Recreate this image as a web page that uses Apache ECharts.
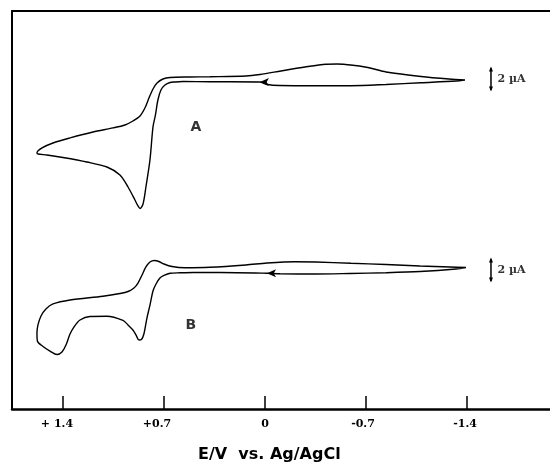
<!DOCTYPE html>
<html>
<head>
<meta charset="utf-8">
<script src="https://cdn.jsdelivr.net/npm/echarts@6/dist/echarts.min.js"></script>
<style>html,body{margin:0;padding:0;background:#fff}#c{width:550px;height:466px}</style>
</head>
<body>
<div id="c"></div>
<script>
// Potential E (V vs Ag/AgCl) and current (µA, offset)
var traceA = [
[-1.386,29.91],[-1.324,29.82],[-1.081,29.66],[-0.839,29.50],[-0.596,29.39],[-0.353,29.39],[-0.104,29.41],[-0.014,29.50],[0.035,29.73],[0.243,29.75],[0.381,29.75],[0.568,29.77],[0.624,29.73],[0.658,29.68],[0.693,29.45],[0.721,29.00],[0.742,28.09],[0.759,26.73],[0.776,25.64],[0.797,22.64],[0.825,20.18],[0.845,18.64],[0.866,18.23],[0.884,18.55],[0.901,19.00],[0.949,20.18],[1.005,21.27],[1.095,22.00],[1.234,22.45],[1.400,22.86],[1.511,23.09],[1.573,23.18],[1.580,23.27],[1.545,23.73],[1.469,24.18],[1.351,24.64],[1.192,25.18],[1.053,25.55],[0.970,25.82],[0.915,26.18],[0.866,26.64],[0.832,27.36],[0.804,28.27],[0.776,29.09],[0.748,29.64],[0.707,30.00],[0.658,30.14],[0.520,30.18],[0.381,30.20],[0.132,30.27],[0.035,30.41],[-0.111,30.73],[-0.277,31.09],[-0.423,31.34],[-0.499,31.36],[-0.624,31.23],[-0.693,31.09],[-0.742,30.95],[-0.839,30.64],[-1.081,30.23],[-1.275,30.00],[-1.386,29.91]
];
var traceB = [
[-1.393,12.86],[-1.324,12.73],[-1.074,12.50],[-0.839,12.39],[-0.589,12.32],[-0.353,12.27],[-0.104,12.29],[-0.014,12.34],[0.312,12.41],[0.499,12.41],[0.589,12.38],[0.658,12.34],[0.700,12.14],[0.728,11.91],[0.755,11.36],[0.776,10.73],[0.797,9.45],[0.818,8.27],[0.839,6.82],[0.856,6.32],[0.873,6.27],[0.894,6.73],[0.915,7.18],[0.949,7.64],[0.984,8.05],[1.095,8.43],[1.213,8.41],[1.282,8.09],[1.324,7.45],[1.351,6.82],[1.379,5.82],[1.407,5.18],[1.441,4.95],[1.490,5.27],[1.538,5.68],[1.577,6.18],[1.580,6.91],[1.573,7.64],[1.552,8.45],[1.518,9.09],[1.469,9.55],[1.351,9.91],[1.123,10.25],[1.005,10.50],[0.949,10.68],[0.908,11.00],[0.880,11.45],[0.852,12.18],[0.825,12.91],[0.797,13.36],[0.766,13.50],[0.735,13.41],[0.700,13.18],[0.644,12.95],[0.554,12.84],[0.381,12.88],[0.132,13.09],[-0.014,13.27],[-0.208,13.39],[-0.353,13.36],[-0.596,13.25],[-0.839,13.14],[-1.074,13.00],[-1.282,12.91],[-1.393,12.86]
];
var arrowA = [0.035, 29.73];
var arrowB = [-0.014, 12.34];
var scaleBarA = [[-1.566, 29.0], [-1.566, 31.0]];
var scaleBarB = [[-1.566, 11.64], [-1.566, 13.64]];
var scaleLabel = '2 µA';
var traceLabels = [{name: 'A', pos: [0.478, 25.64]}, {name: 'B', pos: [0.513, 7.64]}];
var tickValues = [1.4, 0.7, 0, -0.7, -1.4];
var tickLabels = ['+ 1.4', '+0.7', '0', '-0.7', '-1.4'];
var axisTitle = 'E/V  vs. Ag/AgCl';

var labelShift = [12, 14, 0, 6, 4];
var rich = {};
tickLabels.forEach(function (t, i) { rich['p' + i] = {padding: [0, labelShift[i], 0, 0], fontFamily: 'DejaVu Serif', fontWeight: 'bold', fontSize: 11, color: '#000'}; });

function withArrow(data, arrow) {
  return data.map(function (p) {
    if (p[0] === arrow[0] && p[1] === arrow[1]) {
      return {value: p, symbol: 'arrow', symbolSize: [6, 9], symbolRotate: 90, itemStyle: {color: '#000'}};
    }
    return {value: p, symbol: 'none'};
  });
}

var chart = echarts.init(document.getElementById('c'), null, {renderer: 'canvas'});
var xMin = -1.975, xMax = 1.753;
chart.setOption({
  animation: false,
  backgroundColor: '#fff',
  title: {text: axisTitle, left: 198, top: 447, padding: 0,
    textStyle: {fontFamily: 'DejaVu Sans', fontWeight: 'bold', fontSize: 16, color: '#000'}},
  grid: {left: 12, right: 0, top: 11, bottom: 57},
  xAxis: [{
    type: 'value', min: xMin, max: xMax, inverse: true, position: 'bottom',
    axisLine: {show: true, onZero: false, lineStyle: {color: '#000', width: 2.5}},
    axisTick: {show: true, inside: true, length: 13, customValues: tickValues, lineStyle: {color: '#000', width: 1.5}},
    axisLabel: {show: true, margin: 10, customValues: tickValues, rich: rich,
      formatter: function (v) {
        var i = tickValues.findIndex(function (t) { return Math.abs(t - v) < 1e-6; });
        return i < 0 ? '' : '{p' + i + '|' + tickLabels[i] + '}';
      }},
    splitLine: {show: false}
  }, {
    type: 'value', min: xMin, max: xMax, inverse: true, position: 'top',
    axisLine: {show: true, onZero: false, lineStyle: {color: '#000', width: 2}},
    axisTick: {show: false}, axisLabel: {show: false}, splitLine: {show: false}
  }],
  yAxis: {
    type: 'value', min: 0, max: 36.18,
    axisLine: {show: true, onZero: false, lineStyle: {color: '#000', width: 2}},
    axisTick: {show: false}, axisLabel: {show: false}, splitLine: {show: false}
  },
  series: [
    {type: 'line', data: withArrow(traceA, arrowA), smooth: 0.3, symbol: 'none',
      lineStyle: {color: '#000', width: 1.4}, silent: true},
    {type: 'line', data: withArrow(traceB, arrowB), smooth: 0.3, symbol: 'none',
      lineStyle: {color: '#000', width: 1.4}, silent: true},
    {type: 'line', data: scaleBarA, symbol: 'none', lineStyle: {color: '#000', width: 1.5},
      markPoint: {symbol: 'triangle', symbolSize: [4, 5], itemStyle: {color: '#000'}, label: {show: false},
        data: [{coord: scaleBarA[1], symbolOffset: [0, 1]}, {coord: scaleBarA[0], symbolRotate: 180, symbolOffset: [0, -1]}]}},
    {type: 'line', data: scaleBarB, symbol: 'none', lineStyle: {color: '#000', width: 1.5},
      markPoint: {symbol: 'triangle', symbolSize: [4, 5], itemStyle: {color: '#000'}, label: {show: false},
        data: [{coord: scaleBarB[1], symbolOffset: [0, 1]}, {coord: scaleBarB[0], symbolRotate: 180, symbolOffset: [0, -1]}]}},
    {type: 'scatter', symbolSize: 1, itemStyle: {color: 'rgba(0,0,0,0)'},
      data: [[scaleBarA[0][0], (scaleBarA[0][1] + scaleBarA[1][1]) / 2], [scaleBarB[0][0], (scaleBarB[0][1] + scaleBarB[1][1]) / 2]],
      label: {show: true, position: 'right', distance: 6, formatter: scaleLabel,
        fontFamily: 'DejaVu Serif', fontWeight: 'bold', fontSize: 11, color: '#000'}},
    {type: 'scatter', symbolSize: 1, itemStyle: {color: 'rgba(0,0,0,0)'},
      data: traceLabels.map(function (t) { return {value: t.pos, name: t.name}; }),
      label: {show: true, position: 'inside', formatter: '{b}',
        fontFamily: 'DejaVu Sans', fontWeight: 'bold', fontSize: 14, color: '#000'}}
  ]
});
</script>
</body>
</html>
